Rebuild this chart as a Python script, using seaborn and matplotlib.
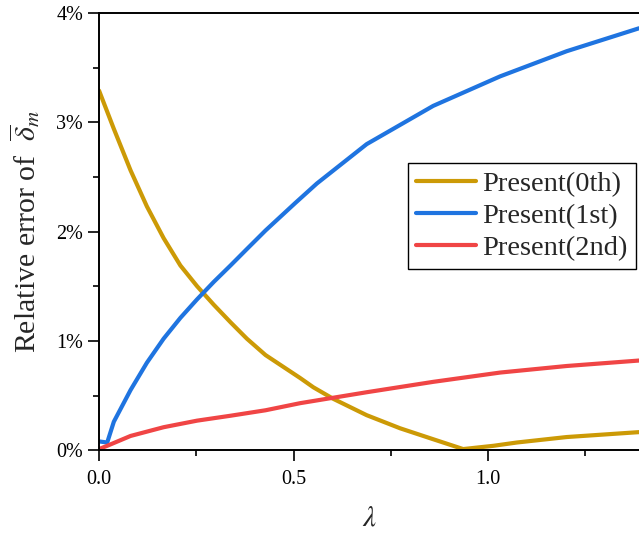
import matplotlib
matplotlib.use("Agg")
import matplotlib.pyplot as plt
from matplotlib.ticker import MultipleLocator, FuncFormatter
import seaborn as sns
import pandas as pd

# Relative error (%) of the mean deflection versus lambda
lam_0th = [0.0, 0.038, 0.081, 0.123, 0.166, 0.209, 0.252, 0.295, 0.338, 0.380,
           0.428, 0.517, 0.551, 0.602, 0.688, 0.774, 0.859, 0.936, 1.014,
           1.074, 1.202, 1.388]
err_0th = [3.29, 2.94, 2.56, 2.23, 1.94, 1.69, 1.50, 1.33, 1.17, 1.02,
           0.87, 0.66, 0.575, 0.47, 0.32, 0.20, 0.10, 0.01, 0.04,
           0.07, 0.12, 0.165]

lam_1st = [0.0, 0.021, 0.038, 0.081, 0.123, 0.166, 0.209, 0.252, 0.295, 0.338,
           0.380, 0.428, 0.504, 0.560, 0.688, 0.859, 1.031, 1.202, 1.388]
err_1st = [0.08, 0.07, 0.26, 0.55, 0.80, 1.02, 1.21, 1.38, 1.54, 1.69,
           1.84, 2.01, 2.26, 2.44, 2.80, 3.15, 3.42, 3.65, 3.86]

lam_2nd = [0.0, 0.021, 0.081, 0.166, 0.252, 0.338, 0.428, 0.517, 0.688, 0.859,
           1.031, 1.202, 1.388]
err_2nd = [0.01, 0.04, 0.13, 0.21, 0.27, 0.315, 0.365, 0.43, 0.53, 0.625,
           0.71, 0.77, 0.82]

series = ["Present(0th)", "Present(1st)", "Present(2nd)"]
colors = ["#CC9A06", "#1F74E0", "#F04545"]

df = pd.concat([
    pd.DataFrame({"lam": lam_0th, "err": err_0th, "series": series[0]}),
    pd.DataFrame({"lam": lam_1st, "err": err_1st, "series": series[1]}),
    pd.DataFrame({"lam": lam_2nd, "err": err_2nd, "series": series[2]}),
], ignore_index=True)

sns.set_style("ticks")
plt.rcParams["font.family"] = ["Liberation Serif", "DejaVu Serif"]
plt.rcParams["mathtext.fontset"] = "stix"

fig = plt.figure(figsize=(6.39, 5.34), dpi=100)
ax = fig.add_axes([0.155, 0.157, 0.845, 0.8187])

sns.lineplot(data=df, x="lam", y="err", hue="series", hue_order=series,
             palette=colors, linewidth=3, sort=False, estimator=None, ax=ax)

ax.set_xlim(0, 1.388)
ax.set_ylim(0, 4)
ax.xaxis.set_major_locator(MultipleLocator(0.5))
ax.xaxis.set_minor_locator(MultipleLocator(0.25))
ax.yaxis.set_major_locator(MultipleLocator(1))
ax.yaxis.set_minor_locator(MultipleLocator(0.5))
ax.xaxis.set_major_formatter(FuncFormatter(lambda v, p: f"{v:.1f}"))
ax.yaxis.set_major_formatter(FuncFormatter(lambda v, p: f"{v:.0f}%"))

ax.tick_params(axis="both", which="major", length=8, width=1.2,
               labelsize=14.5, direction="out", colors="black")
ax.tick_params(axis="both", which="minor", length=4.5, width=1.2,
               direction="out", colors="black")
ax.tick_params(axis="x", pad=6)

for side in ["left", "bottom", "top"]:
    ax.spines[side].set_linewidth(1.4)
    ax.spines[side].set_color("black")
ax.spines["right"].set_visible(False)
ax.spines["top"].set_visible(True)

ax.set_xlabel(r"$\lambda$", fontsize=21, labelpad=12)
ax.set_ylabel(r"Relative error of  $\overline{\delta}_m$", fontsize=21.5, labelpad=10)

handles, labels = ax.get_legend_handles_labels()
leg = ax.legend(handles, labels, loc="upper left", bbox_to_anchor=(0.572, 0.657),
                borderaxespad=0, fontsize=20.5, frameon=True, fancybox=False,
                edgecolor="black", framealpha=1, handlelength=2.1,
                handletextpad=0.2, labelspacing=0.2, borderpad=0.3)
leg.get_frame().set_linewidth(1.0)
for ln in leg.get_lines():
    ln.set_linewidth(3)

fig.savefig("out.png", dpi=100)
